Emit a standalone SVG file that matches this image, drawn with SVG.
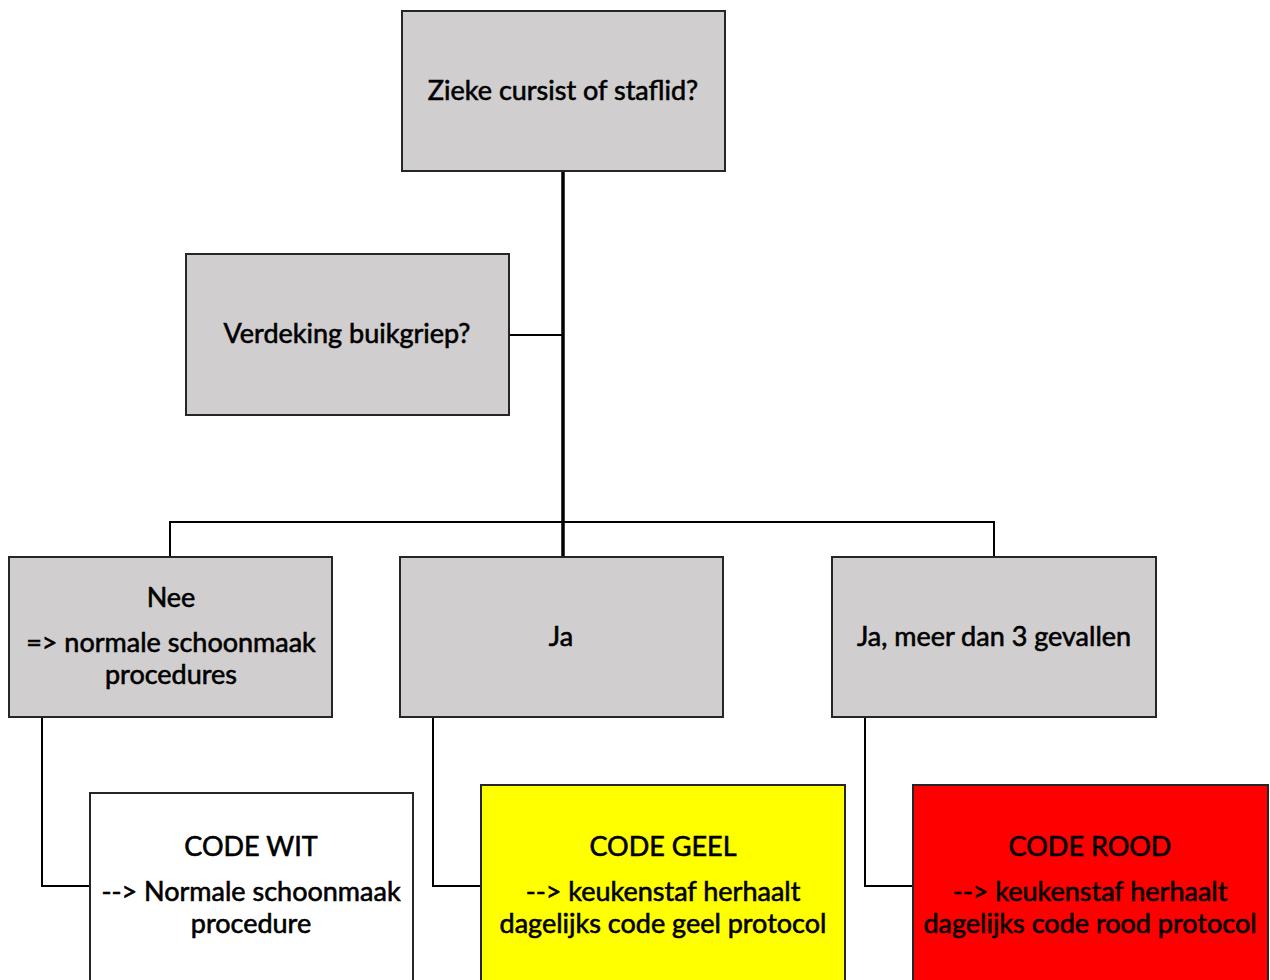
<svg xmlns="http://www.w3.org/2000/svg" width="1270" height="980" viewBox="0 0 1270 980">
<style>
.box{stroke:#262626;stroke-width:2}
.grey{fill:#d0cece}
.t{font-family:Lato,"Liberation Sans",sans-serif;font-size:27px;fill:#000;stroke:#000;stroke-width:0.6;text-anchor:middle}
.c{fill:none;stroke:#000;stroke-width:2}
.main{fill:none;stroke:#000;stroke-width:3.5}
</style>
<rect width="1270" height="980" fill="#fff"/>
<g id="connectors">
<line class="main" x1="563" y1="171" x2="563" y2="557"/>
<line class="c" x1="509" y1="335" x2="563" y2="335"/>
<polyline class="c" points="170,557 170,522 994,522 994,557"/>
<polyline class="c" points="42,717 42,886 90,886"/>
<polyline class="c" points="433,717 433,886 481,886"/>
<polyline class="c" points="865,717 865,886 913,886"/>
</g>
<g id="node-zieke">
<rect class="box grey" x="402" y="11" width="323" height="160"/>
<text class="t" x="563" y="100">Zieke cursist of staflid?</text>
</g>
<g id="node-verdeking">
<rect class="box grey" x="186" y="254" width="323" height="161"/>
<text class="t" x="347" y="343">Verdeking buikgriep?</text>
</g>
<g id="node-nee">
<rect class="box grey" x="9" y="557" width="323" height="160"/>
<text class="t" x="171" y="607">Nee</text>
<text class="t" x="171" y="652">=&gt; normale schoonmaak</text>
<text class="t" x="171" y="684">procedures</text>
</g>
<g id="node-ja">
<rect class="box grey" x="400" y="557" width="323" height="160"/>
<text class="t" x="561" y="646">Ja</text>
</g>
<g id="node-jameer">
<rect class="box grey" x="832" y="557" width="324" height="160"/>
<text class="t" x="994" y="646">Ja, meer dan 3 gevallen</text>
</g>
<g id="node-wit">
<rect class="box" fill="#fff" x="90" y="793" width="323" height="200"/>
<text class="t" x="251" y="856">CODE WIT</text>
<text class="t" x="251" y="901">--&gt; Normale schoonmaak</text>
<text class="t" x="251" y="933">procedure</text>
</g>
<g id="node-geel">
<rect class="box" fill="#ffff00" x="481" y="785" width="364" height="210"/>
<text class="t" x="663" y="856">CODE GEEL</text>
<text class="t" x="663" y="901">--&gt; keukenstaf herhaalt</text>
<text class="t" x="663" y="933">dagelijks code geel protocol</text>
</g>
<g id="node-rood">
<rect class="box" fill="#ff0000" x="913" y="785" width="355" height="210"/>
<text class="t" x="1090" y="856">CODE ROOD</text>
<text class="t" x="1090" y="901">--&gt; keukenstaf herhaalt</text>
<text class="t" x="1090" y="933">dagelijks code rood protocol</text>
</g>
</svg>
